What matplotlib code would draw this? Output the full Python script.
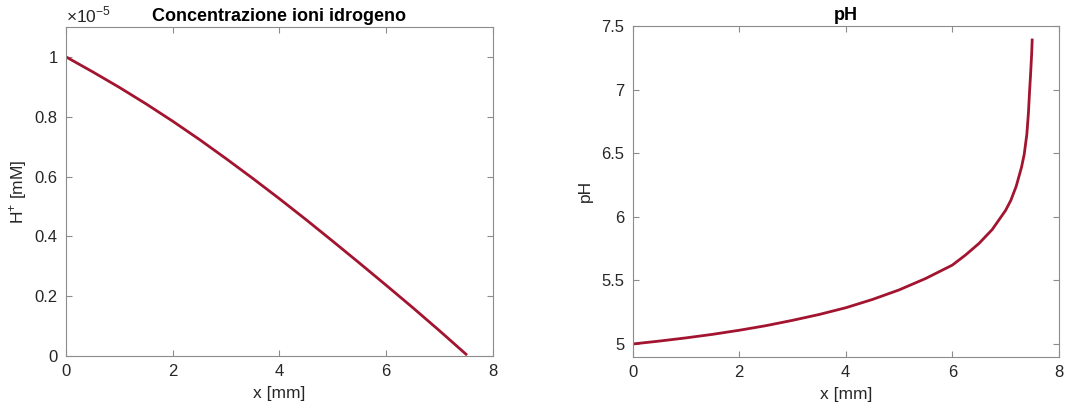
import matplotlib.pyplot as plt

# concentration of H+ (units of 1e-5 mM) vs depth
x_h = [0, 0.5, 1, 1.5, 2, 2.5, 3, 3.5, 4, 4.5, 5, 5.5, 6, 6.5, 7, 7.5]
h_ion = [1.0, 0.950, 0.898, 0.843, 0.785, 0.724, 0.660, 0.594, 0.526,
         0.456, 0.384, 0.311, 0.237, 0.162, 0.085, 0.006]

# pH vs depth
x_ph = [0, 0.5, 1, 1.5, 2, 2.5, 3, 3.5, 4, 4.5, 5, 5.5, 6, 6.25, 6.5,
        6.75, 7, 7.1, 7.2, 7.3, 7.35, 7.4, 7.43, 7.45, 7.47, 7.49, 7.5]
ph = [5.0, 5.023, 5.048, 5.076, 5.108, 5.144, 5.186, 5.232, 5.285, 5.350,
      5.425, 5.515, 5.62, 5.70, 5.79, 5.90, 6.05, 6.13, 6.24, 6.39, 6.49,
      6.65, 6.82, 6.98, 7.12, 7.28, 7.39]

LINE = '#A2142F'
TXT = '#262626'
EDGE = '#8c8c8c'

plt.rcParams['font.family'] = ['Liberation Sans', 'DejaVu Sans']
plt.rcParams['font.size'] = 12
plt.rcParams['mathtext.fontset'] = 'custom'
plt.rcParams['mathtext.rm'] = 'Liberation Sans'

fig = plt.figure(figsize=(10.68, 4.16), dpi=100)
ax1 = fig.add_axes([0.0618, 0.1442, 0.3995, 0.791])
ax2 = fig.add_axes([0.5924, 0.1425, 0.399, 0.795])


def style(ax):
    for s in ax.spines.values():
        s.set_color(EDGE)
        s.set_linewidth(0.8)
    ax.tick_params(direction='in', top=True, right=True, colors=EDGE,
                   labelcolor=TXT, length=4, labelsize=12, pad=6)
    ax.set_xlim(0, 8)
    ax.set_xticks([0, 2, 4, 6, 8])
    ax.set_xlabel('x [mm]', color=TXT, fontsize=12.5, labelpad=5)


ax1.plot(x_h, h_ion, color=LINE, linewidth=2)
style(ax1)
ax1.set_ylim(0, 1.1)
ax1.set_yticks([0, 0.2, 0.4, 0.6, 0.8, 1])
ax1.set_yticklabels(['0', '0.2', '0.4', '0.6', '0.8', '1'])
ax1.set_ylabel('H$^{+}$ [mM]', color=TXT, fontsize=12.5, labelpad=4)
ax1.text(0.0, 1.005, '×10$^{-5}$', transform=ax1.transAxes,
         color=TXT, fontsize=12.5, ha='left', va='bottom')
ax1.set_title('Concentrazione ioni idrogeno', fontweight='bold',
              fontsize=13, pad=4, color='black')

ax2.plot(x_ph, ph, color=LINE, linewidth=2)
style(ax2)
ax2.set_ylim(4.9, 7.5)
ax2.set_yticks([5, 5.5, 6, 6.5, 7, 7.5])
ax2.set_yticklabels(['5', '5.5', '6', '6.5', '7', '7.5'])
ax2.set_ylabel('pH', color=TXT, fontsize=12.5, labelpad=6)
ax2.set_title('pH', fontweight='bold', fontsize=13, pad=4, color='black')

plt.savefig('out.png', dpi=100)
plt.close()
